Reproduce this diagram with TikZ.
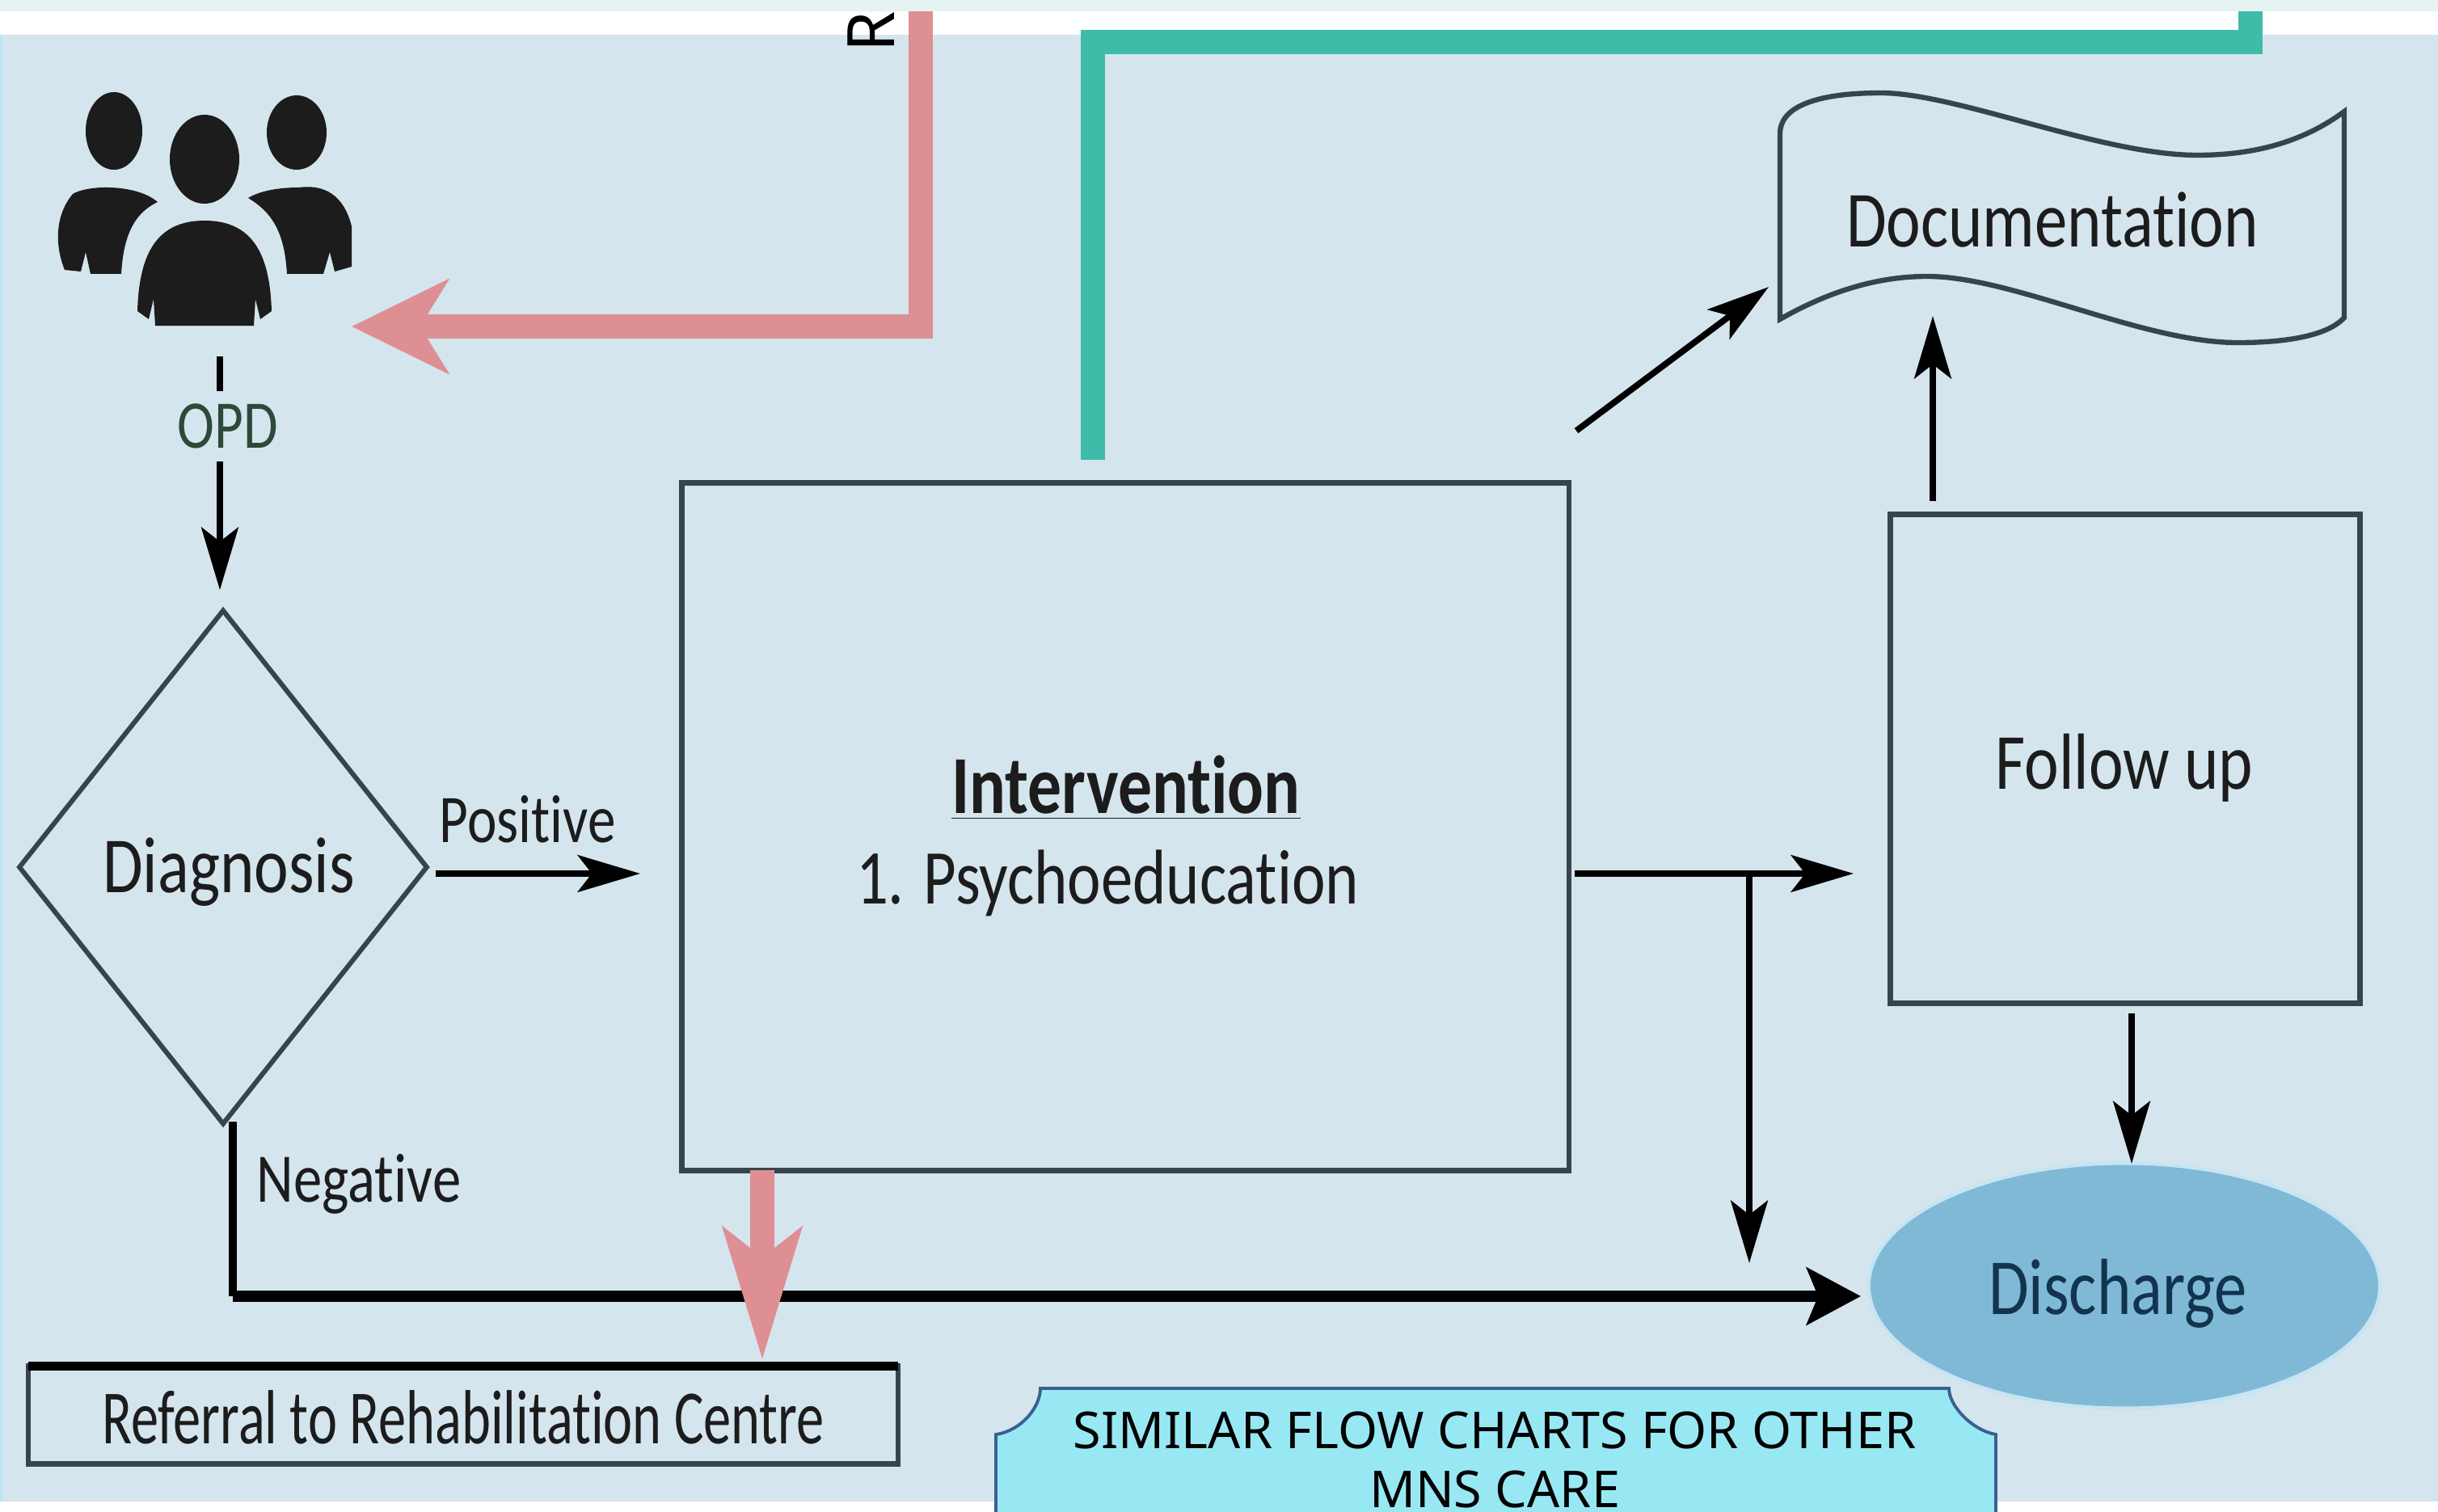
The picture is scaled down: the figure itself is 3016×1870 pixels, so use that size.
\documentclass[tikz,border=0pt]{standalone}
\usepackage{fontspec}
\setmainfont[FakeStretch=0.82,Ligatures=NoCommon]{Carlito}
\newfontfamily\notefont{Noto Sans}
\usetikzlibrary{arrows.meta}
\usetikzlibrary{shapes.geometric}
\definecolor{pagebg}{HTML}{D5E5EE}
\definecolor{topband}{HTML}{E6F3F3}
\definecolor{leftband}{HTML}{BFE4F5}
\definecolor{rosepink}{HTML}{DE8F93}
\definecolor{tealbar}{HTML}{3FBBAA}
\definecolor{boxline}{HTML}{36444E}
\definecolor{figblack}{HTML}{1C1C1C}
\definecolor{dischargefill}{HTML}{7FB9D6}
\definecolor{dischargetext}{HTML}{12344F}
\definecolor{opdgreen}{HTML}{2C4A3A}
\definecolor{notefill}{HTML}{98E8F4}
\definecolor{noteline}{HTML}{3A6090}
\begin{document}
\begin{tikzpicture}[
  x=0.01cm,y=-0.01cm,
  box/.style={draw=boxline,rectangle,line width=1.9pt,inner sep=0pt,outer sep=0pt,text=figblack},
  flow/.style={->,>={Stealth[length=22pt,width=13pt,inset=5pt]},line width=2.2pt,black},
  widehead/.style={->,>={Stealth[length=19pt,width=20pt,inset=4pt]},line width=3.8pt,black},
  rosebar/.style={draw=rosepink,line width=8.6pt,line join=miter},
  label/.style={text=figblack,inner sep=0pt,font=\fontsize{28}{28}\selectfont}]
     \path[use as bounding box,clip] (0,0) rectangle (3016,1870);

     \fill[pagebg] (0,0) rectangle (3016,1870);
     \fill[white] (0,0) rectangle (3016,43);
     \fill[white] (0,1858) rectangle (3016,1870);
     \fill[leftband] (0,43) rectangle (3,1858);

     \node [rotate=90,text=black,inner sep=0pt,font=\notefont\fontsize{23}{23}\selectfont] (rlabel) at (1078,39){R};

     \coordinate (tealend) at (2784,14);
     \coordinate (tealstart) at (1352,569);
     \draw[tealbar,line width=8.6pt] (tealstart) -- (1352,52) -- (2784,52) -- (tealend);

     \coordinate (rosestart) at (1139,14);
     \coordinate (rosetip) at (435,404);
     \draw[rosebar,-{Stealth[length=34pt,width=33pt,inset=10pt]}] (rosestart) -- (1139,404) -- (rosetip);

     \fill[topband] (0,0) rectangle (3016,14);

     \fill[figblack] (141,162) ellipse (35 and 48);
     \fill[figblack] (367,164) ellipse (37 and 46);
     \fill[figblack] (253,197) ellipse (43 and 55);
     \fill[figblack] (170,385) .. controls (172,320) and (190,273) .. (253,273) .. controls (316,273) and (334,320) .. (336,385) -- (322,395) -- (316,370) -- (314,403) -- (192,403) -- (190,370) -- (184,395) -- cycle;
     \fill[figblack] (195,250) .. controls (170,262) and (153,285) .. (150,339) -- (112,339) -- (106,312) -- (100,336) -- (80,334) .. controls (70,310) and (65,270) .. (90,240) .. controls (110,228) and (170,228) .. (195,250) -- cycle;
     \fill[figblack] (307,245) .. controls (335,262) and (352,285) .. (355,339) -- (400,339) -- (408,312) -- (414,336) -- (435,330) -- (435,280) .. controls (425,240) and (400,228) .. (370,232) .. controls (345,232) and (322,236) .. (307,245) -- cycle;
     \node [inner sep=0pt,minimum width=3.6cm,minimum height=2.9cm] (people) at (253,260){};

     \node [diamond,draw=boxline,line width=1.7pt,minimum width=5.06cm,minimum height=6.37cm,inner sep=0pt,aspect=0.8] (diagnosis) at (276,1073){};
     \node [label] (diagnosistext) at (283,1079){Diagnosis};
     \node [box,minimum width=10.97cm,minimum height=8.5cm] (intervention) at (1392,1023){};
     \node [label,font=\fontsize{29}{29}\selectfont] (intertitle) at (1393,975){\underline{\textbf{Intervention}}};
     \node [label,font=\fontsize{27.3}{28}\selectfont] (interitem) at (1370,1093){1. Psychoeducation};
     \node [box,minimum width=5.81cm,minimum height=6.04cm] (followup) at (2629,939){};
     \node [label] (followtext) at (2628,950){Follow up};
     \node [ellipse,fill=dischargefill,draw=leftband!70!pagebg,line width=1.2pt,minimum width=6.32cm,minimum height=3.03cm,inner sep=0pt] (discharge) at (2628,1591){};
     \node [label,text=dischargetext] (dischargetext) at (2620,1601){Discharge};
     \node [box,line width=1.8pt,minimum width=10.76cm,minimum height=1.21cm] (referral) at (573,1751){};
     \node [label,font=\fontsize{27}{27}\selectfont\addfontfeature{FakeStretch=0.72}] (refertext) at (573,1754){Referral to Rehabilitation Centre};
     \draw[black,line width=3.4pt] (referral.north west) -- (referral.north east);

     \draw[boxline,line width=1.8pt] (2202,165) .. controls (2202,135) and (2240,115) .. (2327,115) .. controls (2420,115) and (2600,192) .. (2718,192) .. controls (2790,192) and (2850,175) .. (2900,138) -- (2900,393) .. controls (2880,415) and (2830,424) .. (2768,424) .. controls (2650,424) and (2490,342) .. (2384,342) .. controls (2320,342) and (2260,362) .. (2202,395) -- cycle;
     \node [label] (documentation) at (2539,272){Documentation};

     \fill[notefill,draw=noteline,line width=1.1pt] (1232,1890) -- (1232,1775) .. controls (1265,1770) and (1287,1740) .. (1287,1718) -- (2411,1718) .. controls (2411,1740) and (2440,1770) .. (2469,1775) -- (2469,1890);
     \node [text=black,inner sep=0pt,align=center,font=\notefont\fontsize{17.9}{20.7}\selectfont,anchor=north] (note) at (1849,1746){SIMILAR FLOW CHARTS FOR OTHER\\MNS CARE};

     \coordinate (opdtop) at (272,441);
     \coordinate (diagtop) at (272,730);
     \coordinate (diagbottom) at (288,1388);
     \coordinate (posstart) at (539,1081);
     \coordinate (posend) at (792,1081);
     \coordinate (negend) at (2302,1604);
     \coordinate (negcorner) at (288,1604);
     \coordinate (interout) at (1948,1081);
     \coordinate (followin) at (2293,1081);
     \coordinate (branch) at (2164,1081);
     \coordinate (branchend) at (2164,1563);
     \coordinate (docstart) at (1950,533);
     \coordinate (docend) at (2188,355);
     \coordinate (followtop) at (2391,620);
     \coordinate (docbottom) at (2391,391);
     \coordinate (followbottom) at (2637,1254);
     \coordinate (dischargetop) at (2637,1440);
     \coordinate (interbottom) at (943,1448);
     \coordinate (refertop) at (943,1683);

     \path (opdtop) edge[flow] node[pos=.3,xshift=1mm,fill=pagebg,inner sep=0pt,minimum height=8.7mm,text=opdgreen,font=\fontsize{24}{24}\selectfont]{OPD} (diagtop);
     \path (posstart) edge[flow] node[pos=.45,above=6.7mm,anchor=center,text=figblack,font=\fontsize{24}{24}\selectfont]{Positive} (posend);
     \path (interout) edge[flow] (followin);
     \path (branch) edge[flow] (branchend);
     \path (docstart) edge[flow] (docend);
     \path (followtop) edge[flow] (docbottom);
     \path (followbottom) edge[flow] (dischargetop);
     \draw[black,line width=2.6pt] (diagbottom) -- (negcorner);
     \draw[widehead] (negcorner) -- (negend);
     \node [text=figblack,inner sep=0pt,font=\fontsize{24.5}{24.5}\selectfont] (negative) at (444,1465){Negative};
     \draw[rosebar,-{Stealth[length=46pt,width=27pt,inset=10pt]}] (interbottom) -- (refertop);
\end{tikzpicture}
\end{document}
